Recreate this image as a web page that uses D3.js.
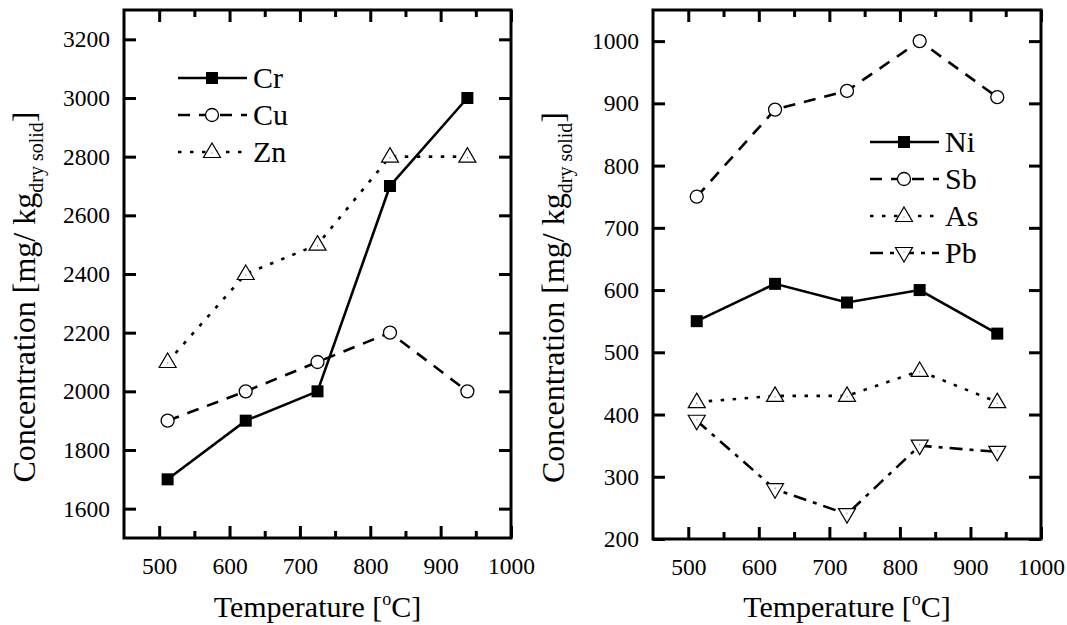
<!DOCTYPE html>
<html>
<head>
<meta charset="utf-8">
<script src="https://cdn.jsdelivr.net/npm/d3@7"></script>
<style>
  body { margin: 0; background: #fff; }
  svg text { font-family: "Liberation Serif", "Times New Roman", serif; fill: #000; }
</style>
</head>
<body>
<svg id="chart" width="1067" height="625"></svg>
<script>
// temperatures of the five samples
const temps = [512, 623, 725, 828, 938];

// left panel
const cr = [1700, 1900, 2000, 2700, 3000];
const cu = [1900, 2000, 2100, 2200, 2000];
const zn = [2100, 2400, 2500, 2800, 2800];

// right panel
const ni = [550, 610, 580, 600, 530];
const sb = [750, 890, 920, 1000, 910];
const as = [420, 430, 430, 470, 420];
const pb = [390, 280, 240, 350, 340];

const xTicks = [500, 600, 700, 800, 900, 1000];
const xMinor = [550, 650, 750, 850, 950];
const leftTicks = [1600, 1800, 2000, 2200, 2400, 2600, 2800, 3000, 3200];
const rightTicks = [200, 300, 400, 500, 600, 700, 800, 900, 1000];

const svg = d3.select("#chart");

function drawMarker(g, type, x, y) {
  if (type === "square") {
    g.append("rect")
      .attr("x", x - 6).attr("y", y - 6)
      .attr("width", 12).attr("height", 12)
      .attr("fill", "black");
  } else if (type === "circle") {
    g.append("circle")
      .attr("cx", x).attr("cy", y).attr("r", 6.5)
      .attr("fill", "white").attr("stroke", "black").attr("stroke-width", 1.3);
  } else {
    // triangles, with the small centre dot of the original
    const s = type === "up" ? 1 : -1;
    g.append("path")
      .attr("d", `M${x},${y - 9 * s} L${x + 8.5},${y + 5.5 * s} L${x - 8.5},${y + 5.5 * s} Z`)
      .attr("fill", "white").attr("stroke", "black").attr("stroke-width", 1.2);
    g.append("circle")
      .attr("cx", x).attr("cy", y + s).attr("r", 0.6).attr("fill", "#555");
  }
}

const dashes = {
  solid: null,
  dash: "12,9",
  dot: "3.5,8.5",
  dashdot: "13,7,4,7"
};

function drawPanel(p) {
  const x = d3.scaleLinear().domain([450, 1000]).range([p.x0, p.x1]);
  const y = d3.scaleLinear().domain(p.yDomain).range([p.y1, p.y0]);
  const g = svg.append("g");

  // ticks, all pointing inward
  g.append("g").attr("transform", `translate(0,${p.y1})`)
    .call(d3.axisBottom(x).tickValues(xTicks).tickSize(-12).tickPadding(19).tickFormat(d3.format("d")))
    .call(a => a.select(".domain").remove());
  g.append("g").attr("transform", `translate(0,${p.y1})`)
    .call(d3.axisBottom(x).tickValues(xMinor).tickSize(-7).tickFormat(""))
    .call(a => a.select(".domain").remove());
  g.append("g").attr("transform", `translate(0,${p.y0})`)
    .call(d3.axisTop(x).tickValues(xTicks).tickSize(-12).tickFormat(""))
    .call(a => a.select(".domain").remove());
  g.append("g").attr("transform", `translate(0,${p.y0})`)
    .call(d3.axisTop(x).tickValues(xMinor).tickSize(-7).tickFormat(""))
    .call(a => a.select(".domain").remove());
  g.append("g").attr("transform", `translate(${p.x0},0)`)
    .call(d3.axisLeft(y).tickValues(p.yTicks).tickSize(-12).tickPadding(14).tickFormat(d3.format("d")))
    .call(a => a.select(".domain").remove());
  g.append("g").attr("transform", `translate(${p.x1},0)`)
    .call(d3.axisRight(y).tickValues(p.yTicks).tickSize(-12).tickFormat(""))
    .call(a => a.select(".domain").remove());

  g.selectAll(".tick line").attr("stroke", "black").attr("stroke-width", 3);
  g.selectAll(".tick text").attr("font-size", 23.5).attr("font-family", "Liberation Serif");

  g.append("rect")
    .attr("x", p.x0).attr("y", p.y0)
    .attr("width", p.x1 - p.x0).attr("height", p.y1 - p.y0)
    .attr("fill", "none").attr("stroke", "black").attr("stroke-width", 3);

  // series
  const line = d3.line().x((d, i) => x(temps[i])).y(d => y(d));
  p.series.forEach(s => {
    g.append("path")
      .attr("d", line(s.values))
      .attr("fill", "none").attr("stroke", "black").attr("stroke-width", 2.6)
      .attr("stroke-dasharray", dashes[s.dash]);
    s.values.forEach((v, i) => drawMarker(g, s.marker, x(temps[i]), y(v)));
  });

  // legend
  p.series.forEach((s, i) => {
    const ly = p.legY + i * 37;
    g.append("line")
      .attr("x1", p.legX).attr("x2", p.legX + 69)
      .attr("y1", ly).attr("y2", ly)
      .attr("stroke", "black").attr("stroke-width", 2.6)
      .attr("stroke-dasharray", dashes[s.dash]);
    drawMarker(g, s.marker, p.legX + 34, ly);
    g.append("text")
      .attr("x", p.legX + 75).attr("y", ly + 10)
      .attr("font-size", 30)
      .text(s.name);
  });

  // axis titles
  const xt = g.append("text")
    .attr("x", (p.x0 + p.x1) / 2).attr("y", 617)
    .attr("text-anchor", "middle").attr("font-size", 30);
  xt.append("tspan").text("Temperature [");
  xt.append("tspan").attr("font-size", 18).attr("dy", -12).text("o");
  xt.append("tspan").attr("dy", 12).text("C]");

  const yt = g.append("text")
    .attr("transform", `translate(${p.x0 - 89},${(p.y0 + p.y1) / 2 + 23}) rotate(-90)`)
    .attr("text-anchor", "middle").attr("font-size", 32);
  yt.append("tspan").text("Concentration [mg/ kg");
  yt.append("tspan").attr("font-size", 20).attr("dy", 8).text("dry solid");
  yt.append("tspan").attr("dy", -8).text("]");
}

drawPanel({
  x0: 124, x1: 511, y0: 10, y1: 538,
  yDomain: [1500, 3300], yTicks: leftTicks,
  legX: 178, legY: 78,
  series: [
    { name: "Cr", values: cr, marker: "square", dash: "solid" },
    { name: "Cu", values: cu, marker: "circle", dash: "dash" },
    { name: "Zn", values: zn, marker: "up", dash: "dot" }
  ]
});

drawPanel({
  x0: 653, x1: 1041, y0: 10, y1: 539,
  yDomain: [200, 1050], yTicks: rightTicks,
  legX: 870, legY: 142,
  series: [
    { name: "Ni", values: ni, marker: "square", dash: "solid" },
    { name: "Sb", values: sb, marker: "circle", dash: "dash" },
    { name: "As", values: as, marker: "up", dash: "dot" },
    { name: "Pb", values: pb, marker: "down", dash: "dashdot" }
  ]
});
</script>
</body>
</html>
